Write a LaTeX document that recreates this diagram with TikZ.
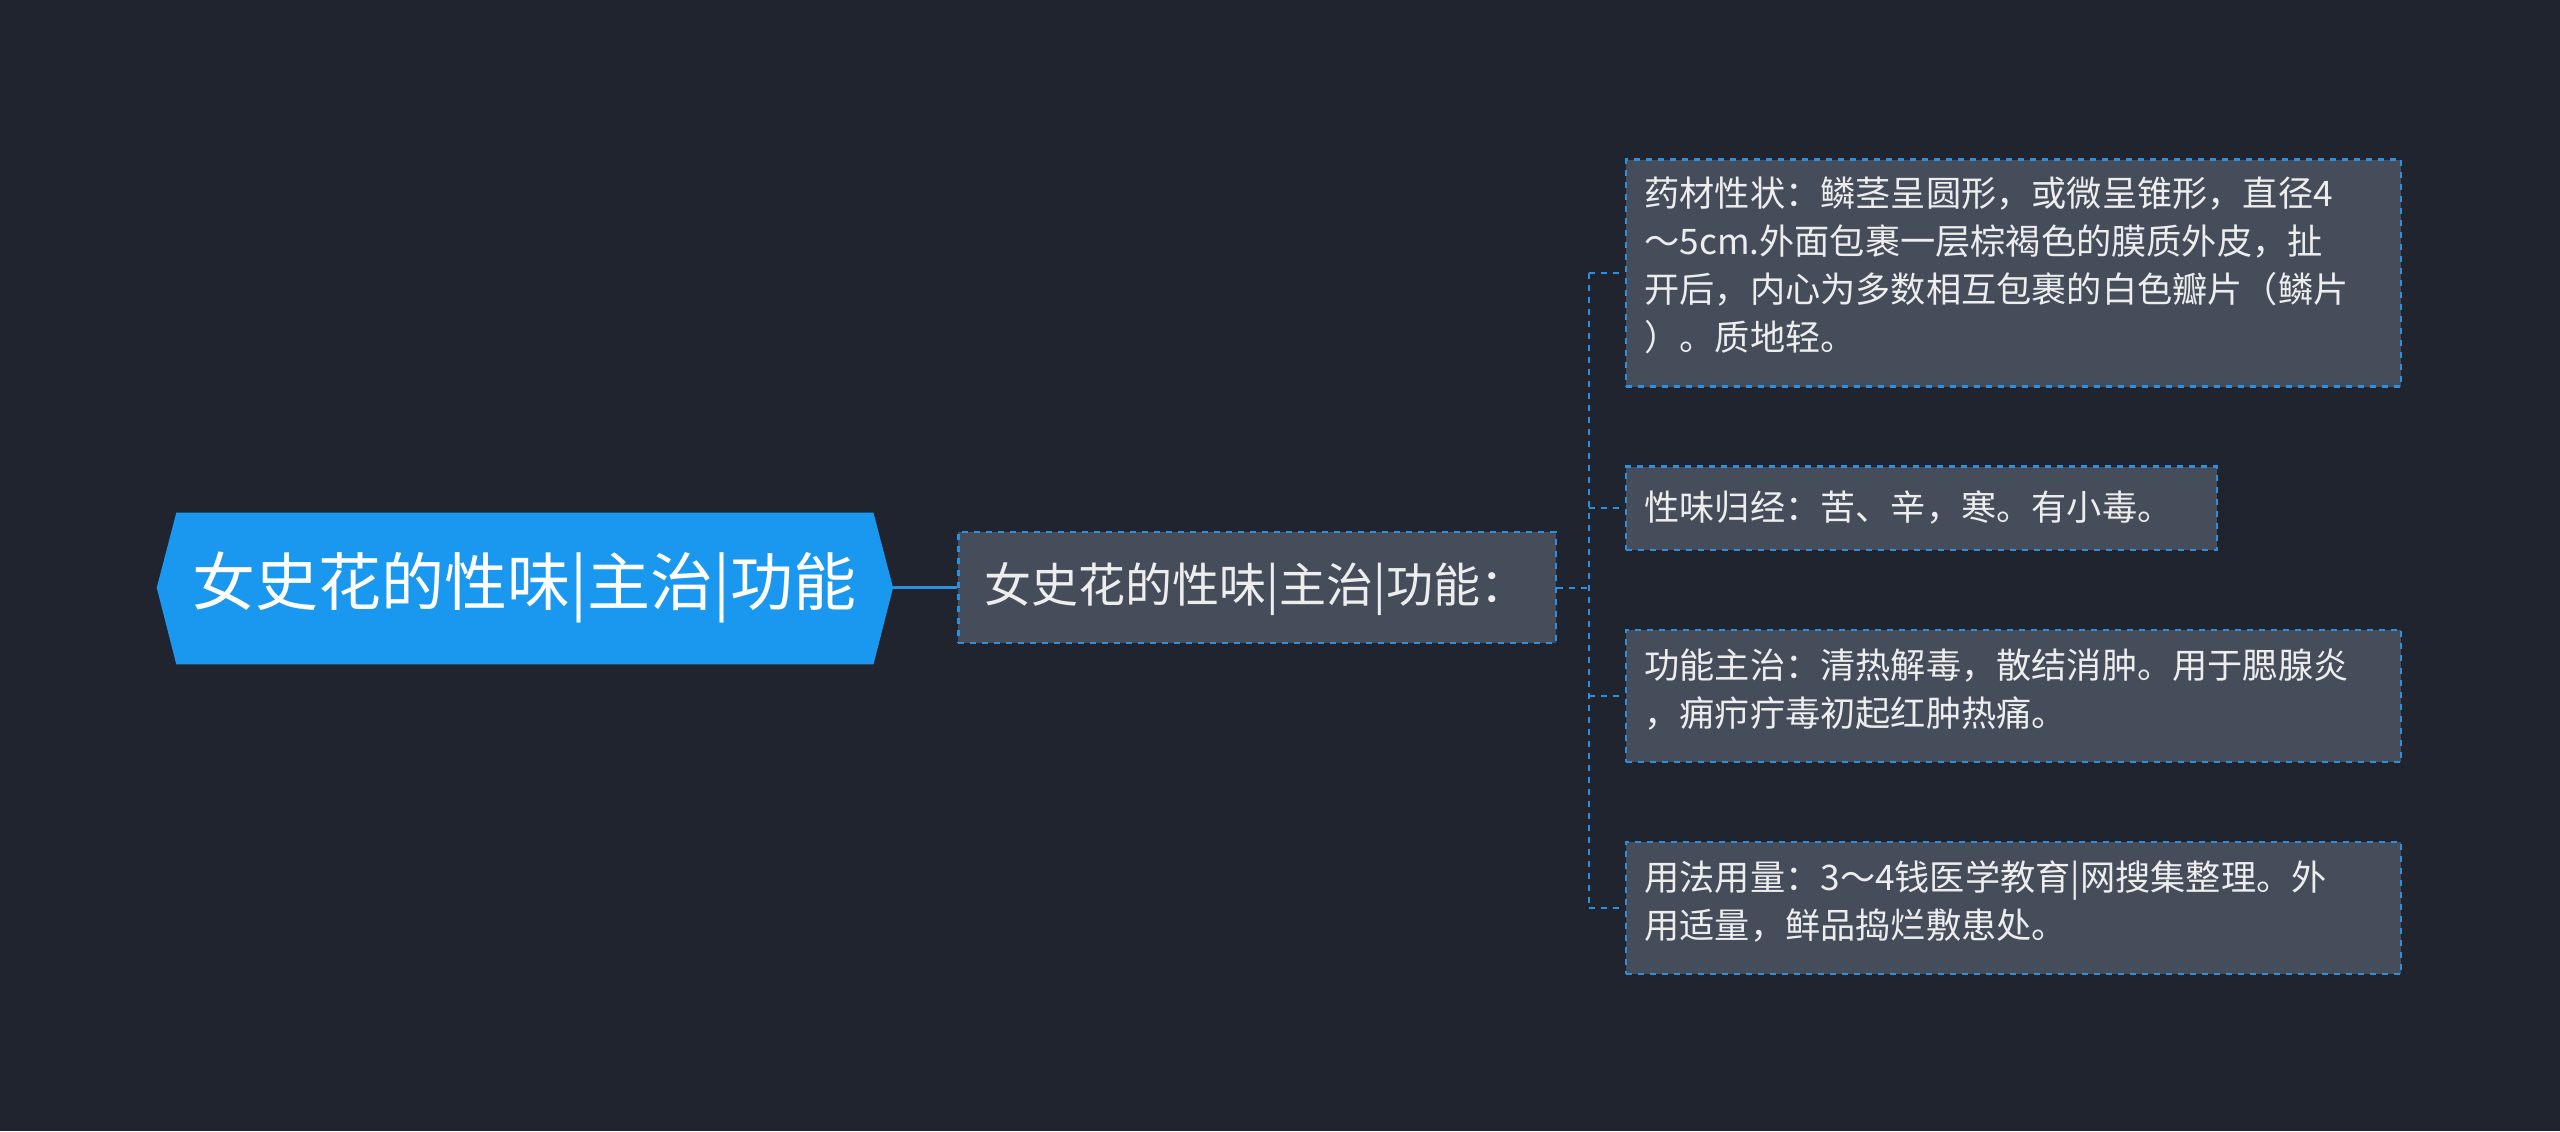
\documentclass[tikz,border=0pt]{standalone}
\usepackage{fontspec}
\setmainfont{Noto Sans CJK SC}
\usetikzlibrary{shapes.geometric}
\definecolor{bg}{HTML}{20242F}
\definecolor{rootc}{HTML}{1A98F0}
\definecolor{boxc}{HTML}{454C5A}
\definecolor{linec}{HTML}{2D8FE0}
\definecolor{txt}{HTML}{EDEDED}
\begin{document}
\begin{tikzpicture}[x=0.8163pt,y=-0.8163pt,
  leaf/.style={draw=linec,dashed,line width=1.2pt,fill=boxc,anchor=north west,inner sep=0pt},
  ltext/.style={text=txt,font=\fontsize{17.6pt}{24pt}\selectfont,align=left,inner sep=0pt},
  conn/.style={draw=linec,line width=1.3pt}]
\fill[bg] (0,0) rectangle (1568,693);
\useasboundingbox (0,0) rectangle (1568,693);
\fill[rootc] (96,360) -- (108,314) -- (535,314) -- (547,360) -- (535,407) -- (108,407) -- cycle;
\node[text=white,font=\fontsize{31.5pt}{34pt}\selectfont] (root) at (321,360) {女史花的性味|主治|功能};
\coordinate (rootr) at (547,360);
\node[draw=linec,dashed,line width=1.2pt,fill=boxc,minimum width=366*0.8163pt,minimum height=68*0.8163pt,inner sep=0pt] (main) at (770,360) {};
\node[anchor=west,text=txt,font=\fontsize{23.5pt}{26pt}\selectfont,inner sep=0pt] at (603,361) {女史花的性味|主治|功能：};
\draw[conn] (rootr) -- (main.west);
\node[leaf,minimum width=475*0.8163pt,minimum height=139*0.8163pt] (b1) at (995,97) {};
\node[ltext,anchor=north west] at (1007,108) {药材性状：鳞茎呈圆形，或微呈锥形，直径4\\～5cm.外面包裹一层棕褐色的膜质外皮，扯\\开后，内心为多数相互包裹的白色瓣片（鳞片\\）。质地轻。};
\node[leaf,minimum width=362*0.8163pt,minimum height=51*0.8163pt] (b2) at (995,285) {};
\node[ltext,anchor=west] at (1007,311) {性味归经：苦、辛，寒。有小毒。};
\node[leaf,minimum width=475*0.8163pt,minimum height=81*0.8163pt] (b3) at (995,385) {};
\node[ltext,anchor=north west] at (1007,397) {功能主治：清热解毒，散结消肿。用于腮腺炎\\，痈疖疔毒初起红肿热痛。};
\node[leaf,minimum width=475*0.8163pt,minimum height=81*0.8163pt] (b4) at (995,515) {};
\node[ltext,anchor=north west] at (1007,527) {用法用量：3～4钱医学教育|网搜集整理。外\\用适量，鲜品捣烂敷患处。};
\coordinate (j) at (973,360);
\draw[conn,dashed,line width=1pt] (main.east) -- (j);
\draw[conn,dashed,line width=1pt] (j |- b1.west) -- (j |- b4.west);
\foreach \b in {b1,b2,b3,b4} \draw[conn,dashed,line width=1pt] (j |- \b.west) -- (\b.west);
\end{tikzpicture}
\end{document}
